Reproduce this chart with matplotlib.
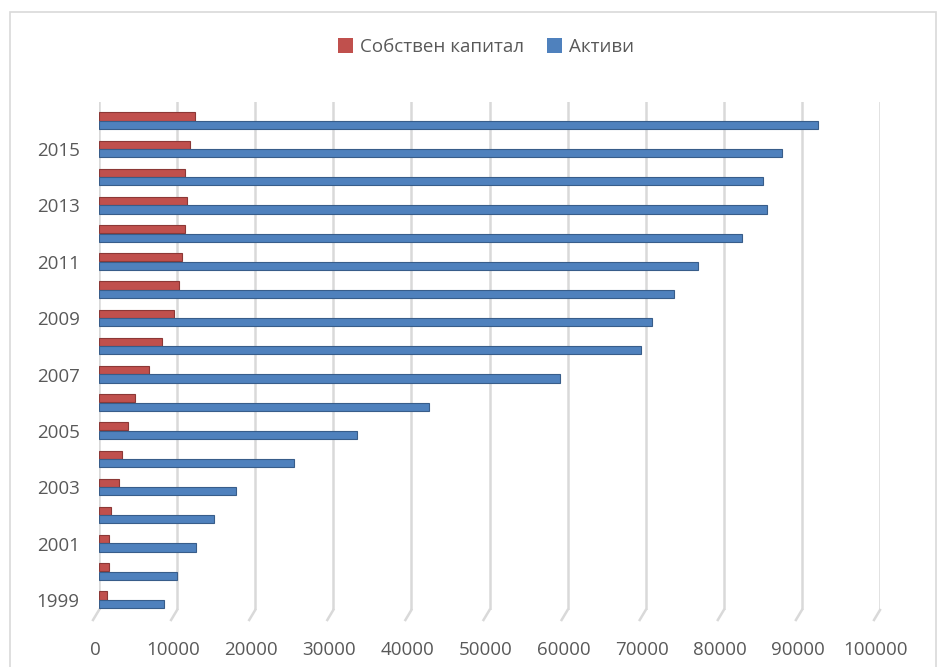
#!/usr/bin/env python3
# -*- coding: utf-8 -*-

"""
Собствен капитал и активи по години (хоризонтални колони)
"""

import matplotlib
matplotlib.use("Agg")
import matplotlib.pyplot as plt
import matplotlib.transforms as mtransforms
from matplotlib.patches import Rectangle
import numpy as np

# --- data ---
years = list(range(1999, 2017))
equity = [1000, 1300, 1300, 1550, 2550, 2950, 3700, 4600, 6400, 8100,
          9600, 10250, 10600, 11000, 11300, 11000, 11650, 12300]
assets = [8300, 10000, 12400, 14700, 17500, 25000, 33000, 42300, 59000, 69400,
          70800, 73600, 76700, 82300, 85500, 85000, 87400, 92000]
year_labels = [str(y) if y % 2 == 1 else '' for y in years]
x_ticks = list(range(0, 100001, 10000))

RED = '#C0504D'
RED_DARK = '#8C3836'
BLUE = '#4F81BD'
BLUE_DARK = '#385D8A'
TEXT = '#595959'
GRID = '#D9D9D9'

plt.rcParams['font.family'] = ['Open Sans', 'DejaVu Sans']

W, H = 943, 667
fig = plt.figure(figsize=(W / 100, H / 100), dpi=100)

# chart border (bottom edge is cut off in the original)
fig.patches.append(Rectangle((10 / W, -0.05), 926 / W, 1.05 - 12 / H,
                             transform=fig.transFigure, fill=False,
                             edgecolor=GRID, linewidth=1.2))

left, right, top, bottom = 99, 880, 102, 610
ax = fig.add_axes([left / W, 1 - bottom / H, (right - left) / W, (bottom - top) / H])

pos = np.arange(len(years))
h = 0.29
ax.barh(pos + 0.16, equity, height=h, color=RED, edgecolor=RED_DARK,
        linewidth=0.8, zorder=3, label='Собствен капитал')
ax.barh(pos - 0.14, assets, height=h, color=BLUE, edgecolor=BLUE_DARK,
        linewidth=0.8, zorder=3, label='Активи')

ax.set_xlim(0, 100000)
# one category = 28.18 px, pair centre of 1999 at pixel 600
ax.set_ylim(-(bottom - 600) / 28.18, (600 - top) / 28.18)

ax.set_yticks(pos)
ax.set_yticklabels(year_labels)
ax.set_xticks(x_ticks)
ax.set_xticklabels([str(t) for t in x_ticks])
ax.tick_params(axis='both', length=0, labelsize=13.5, labelcolor=TEXT)
ax.tick_params(axis='y', pad=14)
ax.tick_params(axis='x', pad=22)

# x labels sit under the front edge of the floor, a few px left
shift = mtransforms.ScaledTranslation(-4 / 100, 0, fig.dpi_scale_trans)
for lbl in ax.get_xticklabels():
    lbl.set_transform(lbl.get_transform() + shift)

ax.grid(axis='x', color=GRID, linewidth=1.8, zorder=0)
for s in ax.spines.values():
    s.set_visible(False)

# little perspective "feet" under each gridline
trans = mtransforms.blended_transform_factory(ax.transData, ax.transAxes)
dx = 6 / ((right - left) / 100000)
dy = 10 / (bottom - top)
for t in x_ticks:
    ax.plot([t, t - dx], [0, -dy], color=GRID, linewidth=1.8,
            transform=trans, clip_on=False, zorder=0)

leg = fig.legend(loc='center', bbox_to_anchor=(486 / W, 1 - 47 / H), ncol=2,
                 frameon=False, fontsize=13.5, handlelength=0.8, handleheight=0.8,
                 handletextpad=0.4, columnspacing=1.2)
for t in leg.get_texts():
    t.set_color(TEXT)
for p in leg.get_patches():
    p.set_edgecolor('none')

plt.savefig('out.png', dpi=100)
